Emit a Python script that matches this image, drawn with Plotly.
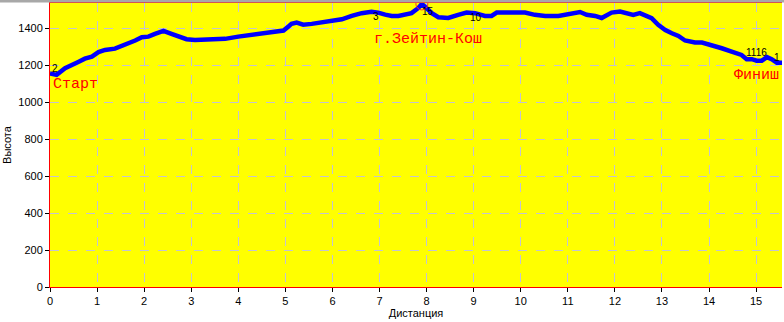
import plotly.graph_objects as go

dist = [0.00, 0.14, 0.32, 0.46, 0.60, 0.74, 0.89, 1.03, 1.17, 1.38, 1.59, 1.81, 1.95, 2.09, 2.23,
        2.41, 2.58, 2.76, 2.90, 3.08, 3.43, 3.72, 4.00, 4.28, 4.57, 4.78, 4.96, 5.06, 5.13, 5.24,
        5.38, 5.56, 5.77, 5.98, 6.20, 6.41, 6.62, 6.83, 6.97, 7.12, 7.26, 7.40, 7.54, 7.68, 7.82,
        7.90, 8.00, 8.11, 8.25, 8.46, 8.67, 8.85, 9.03, 9.24, 9.38, 9.49, 9.67, 9.88, 10.09, 10.30,
        10.52, 10.80, 10.98, 11.12, 11.26, 11.40, 11.58, 11.72, 11.83, 11.93, 12.11, 12.25, 12.39,
        12.53, 12.68, 12.78, 12.92, 13.07, 13.21, 13.35, 13.49, 13.70, 13.85, 14.06, 14.27, 14.48,
        14.69, 14.80, 14.91, 15.01, 15.12, 15.23, 15.33, 15.44, 15.55]
elev = [1155, 1148, 1184, 1198, 1218, 1236, 1247, 1271, 1283, 1290, 1310, 1334, 1352, 1355, 1370,
        1386, 1370, 1352, 1341, 1337, 1337, 1343, 1355, 1364, 1371, 1379, 1388, 1409, 1424, 1431,
        1420, 1424, 1431, 1442, 1449, 1467, 1482, 1489, 1485, 1474, 1467, 1467, 1474, 1482, 1509,
        1532, 1509, 1482, 1460, 1456, 1473, 1485, 1482, 1467, 1467, 1485, 1485, 1482, 1485, 1473,
        1467, 1467, 1473, 1482, 1488, 1473, 1467, 1456, 1473, 1485, 1491, 1485, 1473, 1482, 1467,
        1455, 1419, 1391, 1373, 1359, 1334, 1323, 1323, 1310, 1292, 1274, 1256, 1233, 1233, 1225,
        1225, 1244, 1233, 1214, 1214]

# Named places
place_names = ["Старт", "г.Зейтин-Кош", "Финиш"]
place_x = [0.03, 8.02, 15.52]
place_y = [1094, 1337, 1146]
place_anchor = ["left", "center", "right"]

# Checkpoint numbers
cp_labels = ["2", "3", "15", "10", "1116", "1"]
cp_x = [0.10, 6.93, 8.03, 9.05, 15.01, 15.55]
cp_y = [1185, 1462, 1490, 1456, 1270, 1240]
cp_anchor = ["center", "center", "center", "center", "center", "right"]

peak_i = elev.index(max(elev))

x_ticks = list(range(0, 16))
y_ticks = list(range(0, 1401, 200))

fig = go.Figure()
fig.add_trace(go.Scatter(x=dist, y=elev, mode="lines",
                         line=dict(color="#0000ff", width=4.5), hoverinfo="skip"))
fig.add_trace(go.Scatter(x=[dist[peak_i]], y=[elev[peak_i]], mode="markers",
                         marker=dict(symbol="circle-open", size=12,
                                     line=dict(color="#ff3030", width=1), color="#ff3030")))

for t, x, y, a in zip(place_names, place_x, place_y, place_anchor):
    fig.add_annotation(x=x, y=y, text=t, showarrow=False, xanchor=a,
                       font=dict(family="Liberation Mono, Courier New, monospace", size=15, color="#ff0000"))
for t, x, y, a in zip(cp_labels, cp_x, cp_y, cp_anchor):
    fig.add_annotation(x=x, y=y, text=t, showarrow=False, xanchor=a,
                       font=dict(family="Liberation Sans Narrow, Liberation Sans, Arial", size=10, color="#000000"))

fig.add_shape(type="rect", xref="paper", yref="paper", x0=-0.1, x1=1.1,
              y0=1 + 0.5 / 284, y1=1 + 3 / 284, line=dict(width=0), fillcolor="#a8a8a8")

fig.update_layout(
    width=784, height=322,
    margin=dict(l=50, r=2, t=3, b=35),
    paper_bgcolor="#ffffff", plot_bgcolor="#ffff00",
    showlegend=False,
    font=dict(family="Liberation Sans, Arial", size=11, color="#000000"),
    xaxis=dict(range=[0, 15.55], tickvals=x_ticks, ticktext=[str(v) for v in x_ticks],
               showgrid=True, gridcolor="#c4c4d0", griddash="dash", gridwidth=1,
               showline=True, linecolor="#ff0000", linewidth=1, mirror=True,
               ticks="outside", ticklen=4, tickcolor="#000000", zeroline=False,
               automargin=False,
               title=dict(text="Дистанция", standoff=0, font=dict(size=11))),
    yaxis=dict(range=[0, 1537], tickvals=y_ticks, ticktext=[str(v) for v in y_ticks],
               showgrid=True, gridcolor="#c4c4d0", griddash="dash", gridwidth=1,
               showline=True, linecolor="#ff0000", linewidth=1,
               ticks="outside", ticklen=4, tickcolor="#000000", zeroline=False,
               automargin=False,
               title=dict(text="Высота", standoff=4, font=dict(size=11))),
)

fig.write_html("out.html", config={"displayModeBar": False},
               post_script="document.body.style.margin='0';document.body.style.overflow='hidden';")
